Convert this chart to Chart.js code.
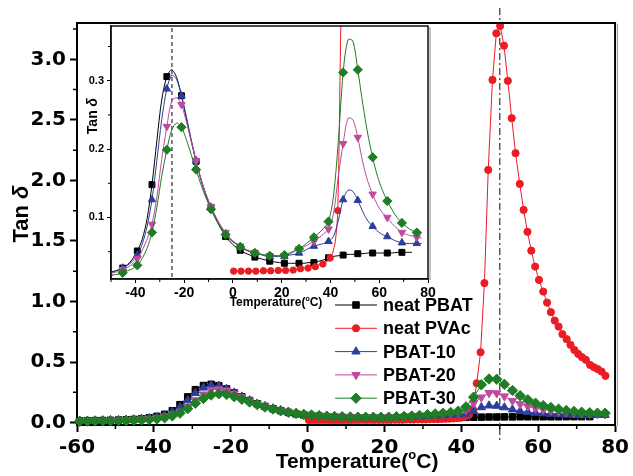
<!DOCTYPE html>
<html>
<head>
<meta charset="utf-8">
<script src="https://cdn.jsdelivr.net/npm/chart.js@4.4.1/dist/chart.umd.min.js"></script>
<style>
  html, body { margin: 0; padding: 0; background: #fff; }
  #wrap { position: relative; width: 633px; height: 476px; }
  #wrap canvas { position: absolute; left: 0; top: 0; }
</style>
</head>
<body>
<div id="wrap">
  <canvas id="main" width="633" height="476"></canvas>
  <canvas id="inset" width="633" height="476"></canvas>
</div>
<script>
const FONT = '"Liberation Sans", Arial, Helvetica, sans-serif';
const NUM_FONT = '"DejaVu Sans", Verdana, sans-serif';

// Temperature steps (°C) of the PBAT-containing samples
const tempPBAT = [
  -59.3, -57.3, -55.3, -53.3, -51.3, -49.2, -47.2, -45.2, -43.2, -41.2,
  -39.2, -37.2, -35.2, -33.2, -31.2, -29.2, -27.1, -25.1, -23.1, -21.1,
  -19.1, -17.1, -15.1, -13.1, -11.1, -9.0, -7.0, -5.0, -3.0, -1.0,
  1.0, 3.0, 5.0, 7.0, 9.0, 11.1, 13.1, 15.1, 17.1, 19.1,
  21.1, 23.1, 25.1, 27.1, 29.1, 31.2, 33.2, 35.2, 37.2, 39.2,
  41.2, 43.2, 45.2, 47.2, 49.2, 51.2, 53.3, 55.3, 57.3, 59.3,
  61.3, 63.3, 65.3, 67.3, 69.3, 71.3, 73.4, 75.4, 77.4
];

// Temperature steps (°C) of neat PVAc
const tempPVAc = [
  0.3, 1.3, 2.3, 3.3, 4.4, 5.4, 6.4, 7.4, 8.4, 9.4,
  10.5, 11.5, 12.5, 13.5, 14.5, 15.5, 16.6, 17.6, 18.6, 19.6,
  20.6, 21.6, 22.7, 23.7, 24.7, 25.7, 26.7, 27.7, 28.7, 29.8,
  30.8, 31.8, 32.8, 33.8, 34.8, 35.9, 36.9, 37.9, 38.9, 39.9,
  40.9, 42.0, 43.0, 44.0, 45.0, 46.0, 47.0, 48.1, 49.1, 50.1,
  51.1, 52.1, 53.1, 54.1, 55.2, 56.2, 57.2, 58.2, 59.2, 60.2,
  61.3, 62.3, 63.3, 64.3, 65.3, 66.3, 67.4, 68.4, 69.4, 70.4,
  71.4, 72.4, 73.5, 74.5, 75.5, 76.5, 77.5
];

const tanPBAT = [
  0.014, 0.015, 0.016, 0.017, 0.019, 0.021, 0.023, 0.026, 0.031, 0.039,
  0.051, 0.068, 0.098, 0.148, 0.212, 0.272, 0.306, 0.316, 0.305, 0.278,
  0.245, 0.212, 0.182, 0.155, 0.133, 0.114, 0.098, 0.084, 0.072, 0.064,
  0.057, 0.052, 0.048, 0.045, 0.042, 0.040, 0.038, 0.036, 0.035, 0.034,
  0.033, 0.033, 0.033, 0.033, 0.033, 0.034, 0.034, 0.036, 0.038, 0.041,
  0.043, 0.044, 0.045, 0.046, 0.046, 0.047, 0.047, 0.048, 0.048, 0.048,
  0.048, 0.048, 0.048, 0.049, 0.049, 0.049, 0.049
];

const tanPVAc = [
  0.0215, 0.0215, 0.0215, 0.0215, 0.0215, 0.0215, 0.0215, 0.0215, 0.0215, 0.0215,
  0.0215, 0.0215, 0.022, 0.022, 0.022, 0.022, 0.022, 0.022, 0.0225, 0.0225,
  0.0225, 0.0225, 0.023, 0.023, 0.023, 0.025, 0.025, 0.025, 0.026, 0.026,
  0.026, 0.028, 0.028, 0.028, 0.030, 0.031, 0.032, 0.034, 0.037, 0.041,
  0.048, 0.065, 0.110, 0.325, 0.581, 1.152, 2.087, 2.830, 3.215, 3.276,
  3.113, 2.822, 2.514, 2.225, 1.971, 1.756, 1.575, 1.420, 1.288, 1.178,
  1.082, 0.991, 0.912, 0.842, 0.793, 0.730, 0.689, 0.642, 0.600, 0.567,
  0.540, 0.518, 0.476, 0.457, 0.441, 0.421, 0.386
];

const tanPBAT10 = [
  0.013, 0.014, 0.015, 0.016, 0.018, 0.020, 0.023, 0.026, 0.030, 0.036,
  0.045, 0.061, 0.087, 0.126, 0.183, 0.243, 0.288, 0.308, 0.302, 0.278,
  0.247, 0.214, 0.183, 0.156, 0.134, 0.115, 0.100, 0.087, 0.076, 0.068,
  0.062, 0.057, 0.053, 0.050, 0.048, 0.046, 0.044, 0.043, 0.043, 0.043,
  0.043, 0.045, 0.046, 0.048, 0.051, 0.055, 0.058, 0.060, 0.062, 0.065,
  0.072, 0.095, 0.126, 0.140, 0.138, 0.125, 0.108, 0.095, 0.087, 0.080,
  0.075, 0.072, 0.068, 0.065, 0.063, 0.062, 0.062, 0.062, 0.062
];

const tanPBAT20 = [
  0.012, 0.013, 0.014, 0.015, 0.017, 0.019, 0.021, 0.024, 0.027, 0.032,
  0.040, 0.052, 0.068, 0.090, 0.130, 0.185, 0.233, 0.270, 0.275, 0.265,
  0.240, 0.211, 0.183, 0.157, 0.135, 0.116, 0.101, 0.088, 0.078, 0.069,
  0.063, 0.058, 0.054, 0.051, 0.049, 0.047, 0.045, 0.044, 0.044, 0.044,
  0.044, 0.046, 0.050, 0.054, 0.057, 0.061, 0.065, 0.070, 0.076, 0.083,
  0.105, 0.160, 0.208, 0.245, 0.243, 0.217, 0.180, 0.153, 0.134, 0.118,
  0.107, 0.100, 0.091, 0.084, 0.078, 0.075, 0.073, 0.071, 0.070
];

const tanPBAT30 = [
  0.011, 0.012, 0.013, 0.014, 0.015, 0.016, 0.017, 0.019, 0.022, 0.025,
  0.030, 0.040, 0.055, 0.078, 0.115, 0.160, 0.199, 0.228, 0.238, 0.232,
  0.214, 0.192, 0.170, 0.148, 0.129, 0.112, 0.097, 0.085, 0.075, 0.067,
  0.062, 0.057, 0.053, 0.050, 0.048, 0.046, 0.045, 0.044, 0.044, 0.044,
  0.045, 0.048, 0.051, 0.054, 0.059, 0.065, 0.071, 0.077, 0.084, 0.094,
  0.130, 0.210, 0.312, 0.360, 0.358, 0.316, 0.265, 0.222, 0.188, 0.160,
  0.140, 0.124, 0.111, 0.100, 0.092, 0.086, 0.081, 0.078, 0.077
];

// Unlabelled (minor) tick values
const minorXMain = [-50, -30, -10, 10, 30, 50, 70];
const minorYMain = [0.25, 0.75, 1.25, 1.75, 2.25, 2.75, 3.25];
const minorXInset = [-50, -30, -10, 10, 30, 50, 70];
const minorYInset = [0.05, 0.15, 0.25, 0.35];

// Marker style of each sample; the inset marks every third point
const series = [
  { label: 'neat PBAT', temps: tempPBAT, values: tanPBAT, color: '#000000', marker: 'rect', rotation: 0, size: 4.6, insetSize: 4.2, phase: 1 },
  { label: 'neat PVAc', temps: tempPVAc, values: tanPVAc, color: '#ec1c24', marker: 'circle', rotation: 0, size: 3.6, insetSize: 3.2, phase: 0 },
  { label: 'PBAT-10', temps: tempPBAT, values: tanPBAT10, color: '#2c3e9c', marker: 'triangle', rotation: 0, size: 4.8, insetSize: 4.3, phase: 1 },
  { label: 'PBAT-20', temps: tempPBAT, values: tanPBAT20, color: '#c04a9e', marker: 'triangle', rotation: 180, size: 4.8, insetSize: 4.3, phase: 1 },
  { label: 'PBAT-30', temps: tempPBAT, values: tanPBAT30, color: '#1f7d25', marker: 'rectRot', rotation: 0, size: 5.2, insetSize: 4.6, phase: 1 }
];

function toPoints(temps, values) {
  return values.map((v, i) => ({ x: temps[i], y: v }));
}

function drawTanDelta(ctx, cx, cy, size) {
  const plain = `bold ${size}px ${FONT}`;
  const greek = `italic bold ${size}px ${FONT}`;
  ctx.save();
  ctx.translate(cx, cy);
  ctx.rotate(-Math.PI / 2);
  ctx.fillStyle = '#000';
  ctx.textBaseline = 'middle';
  ctx.textAlign = 'left';
  ctx.font = plain;
  const w1 = ctx.measureText('Tan ').width;
  ctx.font = greek;
  const w2 = ctx.measureText('δ').width;
  const x0 = -(w1 + w2) / 2;
  ctx.font = plain;
  ctx.fillText('Tan ', x0, 0);
  ctx.font = greek;
  ctx.fillText('δ', x0 + w1, 0);
  ctx.restore();
}

// "Temperature(°C)" with a raised small o for the degree sign
function drawTempTitle(ctx, cx, baseline, size) {
  const big = `bold ${size}px ${FONT}`;
  const small = `bold ${Math.round(size * 0.62)}px ${FONT}`;
  ctx.save();
  ctx.fillStyle = '#000';
  ctx.textBaseline = 'alphabetic';
  ctx.textAlign = 'left';
  ctx.font = big;
  const w1 = ctx.measureText('Temperature(').width;
  const w3 = ctx.measureText('C)').width;
  ctx.font = small;
  const w2 = ctx.measureText('o').width;
  let x = cx - (w1 + w2 + w3) / 2;
  ctx.font = big;
  ctx.fillText('Temperature(', x, baseline);
  x += w1;
  ctx.font = small;
  ctx.fillText('o', x, baseline - size * 0.42);
  x += w2;
  ctx.font = big;
  ctx.fillText('C)', x, baseline);
  ctx.restore();
}

function drawMinorTicks(chart, xs, ys, len, width) {
  const { ctx, chartArea: a, scales } = chart;
  ctx.save();
  ctx.strokeStyle = '#000';
  ctx.lineWidth = width;
  ctx.beginPath();
  xs.forEach(v => {
    const px = scales.x.getPixelForValue(v);
    ctx.moveTo(px, a.bottom);
    ctx.lineTo(px, a.bottom + len);
  });
  ys.forEach(v => {
    const py = scales.y.getPixelForValue(v);
    ctx.moveTo(a.left, py);
    ctx.lineTo(a.left - len, py);
  });
  ctx.stroke();
  ctx.restore();
}

function drawLegend(chart) {
  const ctx = chart.ctx;
  const lineX = 335, lineLen = 42, textX = 383, top = 305, step = 23.3;
  series.forEach((s, i) => {
    const y = top + i * step;
    ctx.save();
    ctx.strokeStyle = s.color;
    ctx.fillStyle = s.color;
    ctx.lineWidth = 1;
    ctx.beginPath();
    ctx.moveTo(lineX, y);
    ctx.lineTo(lineX + lineLen, y);
    ctx.stroke();
    Chart.helpers.drawPoint(ctx, { pointStyle: s.marker, rotation: s.rotation, radius: s.size, borderWidth: 1 }, lineX + lineLen / 2, y);
    ctx.fillStyle = '#000';
    ctx.font = `bold 18px ${FONT}`;
    ctx.textBaseline = 'middle';
    ctx.textAlign = 'left';
    ctx.fillText(s.label, textX, y + 1);
    ctx.restore();
  });
}

const mainDecor = {
  id: 'mainDecor',
  beforeDatasetsDraw(chart) {
    // dash-dot marker of the PVAc peak
    const { ctx, chartArea: a } = chart;
    const px = chart.scales.x.getPixelForValue(50);
    ctx.save();
    ctx.strokeStyle = '#333';
    ctx.lineWidth = 1.2;
    ctx.setLineDash([7, 3, 2, 3]);
    ctx.beginPath();
    ctx.moveTo(px, a.top - 15);
    ctx.lineTo(px, a.bottom + 15);
    ctx.stroke();
    ctx.restore();
  },
  afterDraw(chart) {
    const { ctx, chartArea: a } = chart;
    ctx.save();
    ctx.strokeStyle = '#000';
    ctx.lineWidth = 2;
    ctx.beginPath();
    ctx.moveTo(a.left - 1, a.top);
    ctx.lineTo(a.right + 1, a.top);
    ctx.moveTo(a.right, a.top);
    ctx.lineTo(a.right, a.bottom);
    ctx.stroke();
    ctx.strokeStyle = '#9a9a9a';
    ctx.lineWidth = 1;
    ctx.beginPath();
    ctx.moveTo(a.right + 2.5, a.top + 1);
    ctx.lineTo(a.right + 2.5, a.bottom + 1);
    ctx.stroke();
    ctx.restore();
    drawMinorTicks(chart, minorXMain, minorYMain, 4, 1.5);
    drawTanDelta(ctx, 22, 214, 22);
    drawTempTitle(ctx, 357, 468, 21);
    drawLegend(chart);
  }
};

const insetDecor = {
  id: 'insetDecor',
  beforeDraw(chart) {
    const { ctx, chartArea: a } = chart;
    ctx.save();
    ctx.fillStyle = '#fff';
    ctx.fillRect(a.left, a.top, a.right - a.left, a.bottom - a.top);
    ctx.restore();
  },
  beforeDatasetsDraw(chart) {
    const { ctx, chartArea: a } = chart;
    const px = chart.scales.x.getPixelForValue(-25);
    ctx.save();
    ctx.strokeStyle = '#000';
    ctx.lineWidth = 1;
    ctx.setLineDash([4, 3]);
    ctx.beginPath();
    ctx.moveTo(px, a.top + 2);
    ctx.lineTo(px, a.bottom);
    ctx.stroke();
    ctx.restore();
  },
  afterDraw(chart) {
    const { ctx, chartArea: a } = chart;
    ctx.save();
    ctx.strokeStyle = '#111';
    ctx.lineWidth = 1.5;
    ctx.strokeRect(a.left, a.top, a.right - a.left, a.bottom - a.top);
    ctx.strokeStyle = '#8a8a8a';
    ctx.lineWidth = 1;
    ctx.beginPath();
    ctx.moveTo(a.right + 2, a.top + 1);
    ctx.lineTo(a.right + 2, a.bottom + 1);
    ctx.stroke();
    ctx.restore();
    drawMinorTicks(chart, minorXInset, minorYInset, 3, 1);
    drawTanDelta(ctx, 93, 116, 14);
    drawTempTitle(ctx, 276, 306, 12);
  }
};

const axisGrid = (len, width) => ({
  display: true, drawOnChartArea: false, drawTicks: true,
  tickLength: len, tickWidth: width, tickColor: '#000'
});

new Chart(document.getElementById('main'), {
  type: 'line',
  data: {
    datasets: series.map((s, i) => ({
      label: s.label,
      data: toPoints(s.temps, s.values),
      borderColor: s.color,
      backgroundColor: s.color,
      borderWidth: 1,
      pointStyle: s.marker,
      pointRotation: s.rotation,
      pointRadius: s.size,
      pointBorderWidth: 1,
      order: series.length - i,
      clip: 8
    }))
  },
  options: {
    responsive: false,
    animation: false,
    events: [],
    layout: { padding: { top: 23, right: 13, left: 0, bottom: 0 } },
    plugins: { legend: { display: false }, tooltip: { enabled: false } },
    scales: {
      x: {
        type: 'linear', min: -60, max: 80,
        ticks: { stepSize: 20, autoSkip: false, includeBounds: false, maxRotation: 0, padding: 4, color: '#000', font: { family: NUM_FONT, size: 20, weight: 'bold' } },
        grid: axisGrid(7, 2),
        border: { display: true, color: '#000', width: 2 },
        afterFit: s => { s.height = 51; }
      },
      y: {
        type: 'linear', min: -0.02, max: 3.3,
        ticks: { stepSize: 0.5, autoSkip: false, includeBounds: false, padding: 4, color: '#000', font: { family: NUM_FONT, size: 20, weight: 'bold' }, callback: v => v.toFixed(1) },
        grid: axisGrid(7, 2),
        border: { display: true, color: '#000', width: 2 },
        afterFit: s => { s.width = 77; }
      }
    }
  },
  plugins: [mainDecor]
});

new Chart(document.getElementById('inset'), {
  type: 'line',
  data: {
    datasets: series.map((s, i) => ({
      label: s.label,
      data: toPoints(s.temps, s.values),
      borderColor: s.color,
      backgroundColor: s.color,
      borderWidth: 1,
      tension: 0.3,
      pointStyle: s.marker,
      pointRotation: s.rotation,
      pointRadius: ctx => (ctx.dataIndex % 3 === s.phase ? s.insetSize : 0),
      pointBorderWidth: 1,
      order: series.length - i,
      clip: 0
    }))
  },
  options: {
    responsive: false,
    animation: false,
    events: [],
    layout: { padding: { top: 26, right: 205, left: 81, bottom: 167 } },
    plugins: { legend: { display: false }, tooltip: { enabled: false } },
    scales: {
      x: {
        type: 'linear', min: -50, max: 80,
        ticks: { stepSize: 20, autoSkip: false, includeBounds: false, maxRotation: 0, padding: 2, color: '#000', font: { family: FONT, size: 14, weight: 'bold' } },
        grid: axisGrid(4, 1),
        border: { display: true, color: '#111', width: 1.5 },
        afterFit: s => { s.height = 30; }
      },
      y: {
        type: 'linear', min: 0.01, max: 0.38,
        ticks: { stepSize: 0.1, autoSkip: false, includeBounds: false, padding: 3, color: '#000', font: { family: FONT, size: 11, weight: 'bold' }, callback: v => v.toFixed(1) },
        grid: axisGrid(4, 1),
        border: { display: true, color: '#111', width: 1.5 },
        afterFit: s => { s.width = 30; }
      }
    }
  },
  plugins: [insetDecor]
});
</script>
</body>
</html>
